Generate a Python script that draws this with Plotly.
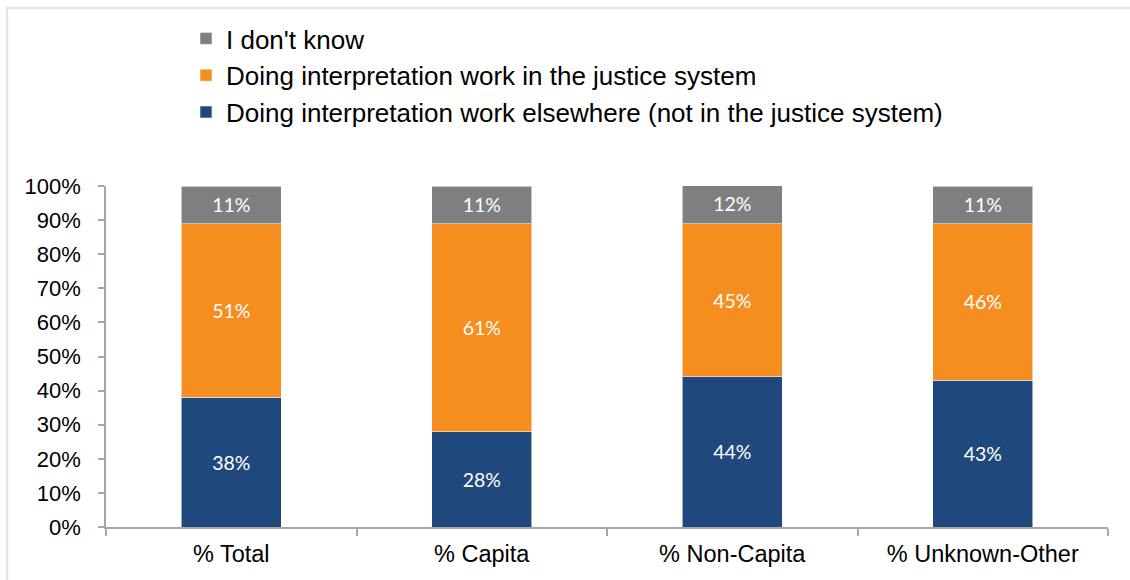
import plotly.graph_objects as go

# Survey breakdown by respondent group (percent of respondents)
categories = ["% Total", "% Capita", "% Non-Capita", "% Unknown-Other"]
elsewhere = [38, 28, 44, 43]
justice = [51, 61, 45, 46]
dont_know = [11, 11, 12, 11]

y_ticks = [0, 10, 20, 30, 40, 50, 60, 70, 80, 90, 100]

series = [
    ("Doing interpretation work elsewhere (not in the justice system)", elsewhere, "#1f497d"),
    ("Doing interpretation work in the justice system", justice, "#f68e1f"),
    ("I don't know", dont_know, "#7f7f7f"),
]

W, H = 1130, 580
L, R, T, B = 106, 22, 186, 53
PW, PH = W - L - R, H - T - B

fig = go.Figure()
for name, vals, color in series:
    fig.add_trace(go.Bar(
        x=categories,
        y=vals,
        name=name,
        marker=dict(color=color, line=dict(color="rgba(255,255,255,0.55)", width=1)),
        texttemplate="%{y}%",
        textposition="inside",
        insidetextanchor="middle",
        textangle=0,
        constraintext="none",
        textfont=dict(family="Lato, Open Sans, sans-serif", size=19.5, color="white"),
        hoverinfo="skip",
    ))

axis_gray = "#a6a6a6"
font = "Liberation Sans, Arial, sans-serif"

fig.update_layout(
    width=W,
    height=H,
    barmode="stack",
    bargap=0.6,
    margin=dict(l=L, r=R, t=T, b=B, autoexpand=False),
    paper_bgcolor="white",
    plot_bgcolor="white",
    font=dict(family=font, color="black"),
    legend=dict(
        traceorder="reversed",
        x=(186 - L) / PW,
        y=(H - B - 15) / PH,
        xanchor="left",
        yanchor="top",
        font=dict(family=font, size=26, color="black"),
        itemclick=False,
        itemdoubleclick=False,
        bgcolor="rgba(0,0,0,0)",
        tracegroupgap=0,
    ),
    xaxis=dict(
        showline=True,
        linecolor=axis_gray,
        linewidth=1.5,
        ticks="outside",
        tickson="boundaries",
        tickcolor=axis_gray,
        ticklen=7,
        tickwidth=1.5,
        tickangle=0,
        ticklabelstandoff=5,
        automargin=False,
        tickfont=dict(family=font, size=23.5),
        showgrid=False,
        zeroline=False,
    ),
    yaxis=dict(
        range=[0, 100],
        tickvals=y_ticks,
        ticktext=[f"{v}%" for v in y_ticks],
        showline=True,
        linecolor=axis_gray,
        linewidth=1.5,
        ticks="outside",
        tickcolor=axis_gray,
        ticklen=6,
        tickwidth=1.5,
        ticklabelstandoff=13,
        automargin=False,
        tickfont=dict(family=font, size=22),
        showgrid=False,
        zeroline=False,
    ),
    shapes=[
        dict(
            type="rect",
            xref="paper",
            yref="paper",
            x0=(7 - L) / PW,
            x1=(W + 20 - L) / PW,
            y0=-(B + 20) / PH,
            y1=(H - B - 8) / PH,
            line=dict(color="#e6e6e6", width=2.5),
            fillcolor="rgba(0,0,0,0)",
            layer="below",
        )
    ],
)

fig.write_html("out.html")
